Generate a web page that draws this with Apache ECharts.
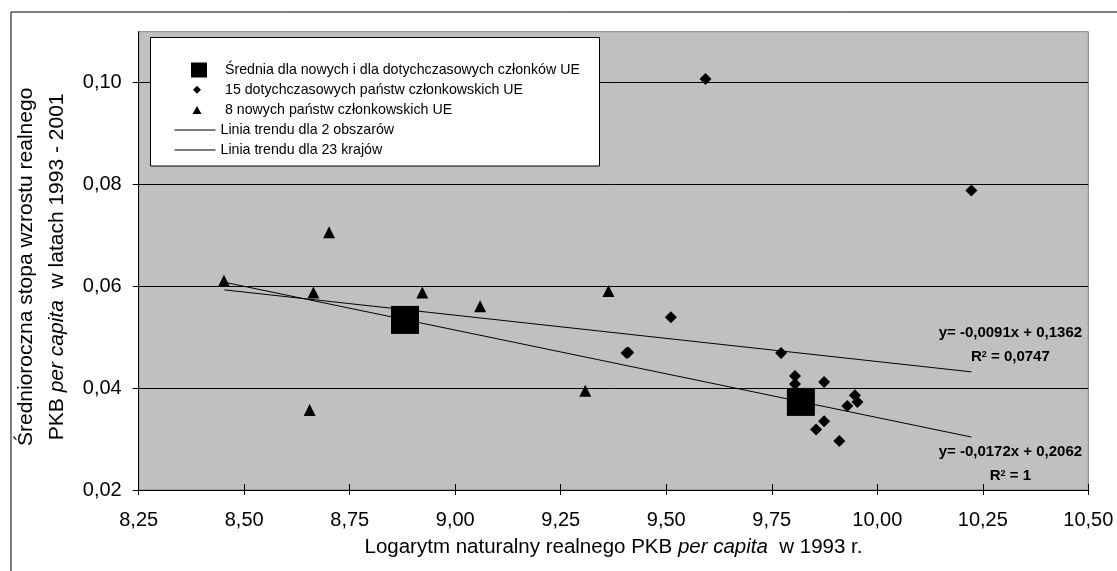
<!DOCTYPE html>
<html><head><meta charset="utf-8">
<script src="https://cdn.jsdelivr.net/npm/echarts@6/dist/echarts.min.js"></script>
<style>html,body{margin:0;padding:0;background:#fff}#c{width:1117px;height:571px}</style>
</head><body><div id="c"></div>
<script>
const seriesNames = [
  'Średnia dla nowych i dla dotychczasowych członków UE',
  '15 dotychczasowych państw członkowskich UE',
  '8 nowych państw członkowskich UE',
  'Linia trendu dla 2 obszarów',
  'Linia trendu dla 23 krajów'
];
const meanPoints = [[8.881, 0.0534], [9.819, 0.0373]];
const oldMembers = [
  [9.593, 0.1007], [10.223, 0.0788], [9.511, 0.0539], [9.406, 0.0469], [9.410, 0.0470],
  [9.772, 0.0469], [9.805, 0.0424], [9.805, 0.0408], [9.874, 0.0412], [9.947, 0.0386],
  [9.953, 0.0373], [9.929, 0.0365], [9.874, 0.0335], [9.855, 0.0319], [9.910, 0.0296]
];
const newMembers = [
  [8.452, 0.0611], [8.664, 0.0588], [8.701, 0.0706], [8.655, 0.0357],
  [8.922, 0.0588], [9.059, 0.0561], [9.363, 0.0591], [9.308, 0.0395]
];
const trend2 = [[8.453, 0.0608], [10.223, 0.0304]];
const trend23 = [[8.453, 0.0593], [10.223, 0.0432]];
const trend2Eq = 'y= -0,0172x + 0,2062';
const trend2R2 = '1';
const trend23Eq = 'y= -0,0091x + 0,1362';
const trend23R2 = '0,0747';
const yTickValues = [0.02, 0.04, 0.06, 0.08, 0.10];
const xName = ['Logarytm naturalny realnego PKB ', 'per capita', '  w 1993 r.'];
const yName = ['Średnioroczna stopa wzrostu realnego', 'PKB ', 'per capita', '  w latach 1993 - 2001'];

const FF = 'Liberation Sans, Arial, sans-serif';
const fmt = v => v.toFixed(2).replace('.', ',');
const legendText = {fontFamily: FF, fontSize: 14.2, color: '#000', lineHeight: 16};
function eqLabel(eq, r2, dx, dy) {
  return {
    show: true, position: 'inside', offset: [dx, dy], align: 'center', verticalAlign: 'middle',
    formatter: '{b|' + eq + '}\n{b|R}{s|2}{b| = ' + r2 + '}',
    rich: {
      b: {fontFamily: FF, fontSize: 15, fontWeight: 'bold', color: '#000', lineHeight: 24},
      s: {fontFamily: FF, fontSize: 9, fontWeight: 'bold', color: '#000', lineHeight: 10, verticalAlign: 'middle', padding: [0, 0, 5, 0]}
    }
  };
}

const chart = echarts.init(document.getElementById('c'), null, {renderer: 'canvas'});
chart.setOption({
  backgroundColor: '#fff',
  animation: false,
  grid: {left: 138.7, right: 28.7, top: 31.7, bottom: 81, show: true, backgroundColor: '#C0C0C0',
         borderColor: '#808080', borderWidth: 1, outerBoundsMode: 'none'},
  graphic: [
    {type: 'rect', z: 0, shape: {x: 11, y: 12, width: 1200, height: 700}, style: {fill: 'none', stroke: '#000', lineWidth: 1}},
    {type: 'rect', z: 50, shape: {x: 150.5, y: 37.5, width: 449, height: 128.5}, style: {fill: '#fff', stroke: '#000', lineWidth: 1}}
  ],
  legend: [
    {data: [seriesNames[0]], left: 191, top: 62, itemWidth: 16, itemHeight: 15, padding: 0, z: 60, selectedMode: false,
     itemStyle: {opacity: 1}, textStyle: Object.assign({}, legendText, {padding: [0, 0, 0, 13]})},
    {data: [seriesNames[1]], left: 193, top: 81.8, itemWidth: 8, itemHeight: 8, padding: 0, z: 60, selectedMode: false,
     itemStyle: {opacity: 1}, textStyle: Object.assign({}, legendText, {padding: [0, 0, 0, 19]})},
    {data: [seriesNames[2]], left: 192.5, top: 102, itemWidth: 9, itemHeight: 8, padding: 0, z: 60, selectedMode: false,
     itemStyle: {opacity: 1}, textStyle: Object.assign({}, legendText, {padding: [0, 0, 0, 18.5]})},
    {data: [seriesNames[3]], left: 174, top: 122, itemWidth: 41, itemHeight: 14, padding: 0, z: 60, selectedMode: false,
     itemStyle: {opacity: 0}, lineStyle: {width: 1, color: '#000'}, textStyle: legendText},
    {data: [seriesNames[4]], left: 174, top: 142, itemWidth: 41, itemHeight: 14, padding: 0, z: 60, selectedMode: false,
     itemStyle: {opacity: 0}, lineStyle: {width: 1, color: '#000'}, textStyle: legendText}
  ],
  xAxis: [
    {type: 'value', min: 8.25, max: 10.5, interval: 0.25, position: 'bottom',
     name: '{n|' + xName[0] + '}{i|' + xName[1] + '}{n|' + xName[2] + '}',
     nameLocation: 'middle', nameGap: 47,
     nameTextStyle: {rich: {
       n: {fontFamily: FF, fontSize: 20.5, color: '#000'},
       i: {fontFamily: FF, fontSize: 20.5, color: '#000', fontStyle: 'italic'}}},
     axisLine: {show: true, lineStyle: {color: '#000', width: 1}},
     axisTick: {show: true, inside: false, length: 5, lineStyle: {color: '#000'}},
     axisLabel: {formatter: fmt, fontFamily: FF, fontSize: 20, color: '#000', margin: 20},
     splitLine: {show: false}},
    {type: 'value', min: 8.25, max: 10.5, interval: 0.25, position: 'bottom',
     axisLine: {show: false}, axisLabel: {show: false}, splitLine: {show: false},
     axisTick: {show: true, inside: true, length: 6, lineStyle: {color: '#000'}}}
  ],
  yAxis: {type: 'value', min: 0.02, max: 0.11, interval: 0.02,
    name: '{n|' + yName[0] + '}\n{n|' + yName[1] + '}{i|' + yName[2] + '}{n|' + yName[3] + '}',
    nameLocation: 'middle', nameGap: 66, nameRotate: 90,
    nameTextStyle: {align: 'center', padding: [0, 12, 0, 0], rich: {
      n: {fontFamily: FF, fontSize: 21, color: '#000', lineHeight: 31},
      i: {fontFamily: FF, fontSize: 21, color: '#000', fontStyle: 'italic', lineHeight: 31}}},
    axisLine: {show: true, lineStyle: {color: '#000', width: 1}},
    axisTick: {show: true, length: 6, customValues: yTickValues, lineStyle: {color: '#000'}},
    axisLabel: {formatter: fmt, customValues: yTickValues, fontFamily: FF, fontSize: 20, color: '#000', margin: 17},
    splitLine: {show: true, lineStyle: {color: '#000', width: 1}}
  },
  series: [
    {name: seriesNames[0], type: 'scatter', symbol: 'rect', symbolSize: 28, data: meanPoints, z: 4,
     itemStyle: {color: '#000', opacity: 1}},
    {name: seriesNames[1], type: 'scatter', symbol: 'diamond', symbolSize: 12, data: oldMembers, z: 3,
     itemStyle: {color: '#000', opacity: 1}},
    {name: seriesNames[2], type: 'scatter', symbol: 'triangle', symbolSize: 12, data: newMembers, z: 3,
     itemStyle: {color: '#000', opacity: 1}},
    {name: seriesNames[3], type: 'line', data: trend2, symbol: 'none', z: 2,
     lineStyle: {color: '#000', width: 1}, itemStyle: {color: '#000'},
     markPoint: {symbol: 'circle', symbolSize: 1, itemStyle: {color: 'rgba(0,0,0,0)'},
       data: [{coord: trend2[1], label: eqLabel(trend2Eq, trend2R2, 39, 27)}]}},
    {name: seriesNames[4], type: 'line', data: trend23, symbol: 'none', z: 2,
     lineStyle: {color: '#000', width: 1}, itemStyle: {color: '#000'},
     markPoint: {symbol: 'circle', symbolSize: 1, itemStyle: {color: 'rgba(0,0,0,0)'},
       data: [{coord: trend23[1], label: eqLabel(trend23Eq, trend23R2, 39, -27)}]}}
  ]
});
</script></body></html>
